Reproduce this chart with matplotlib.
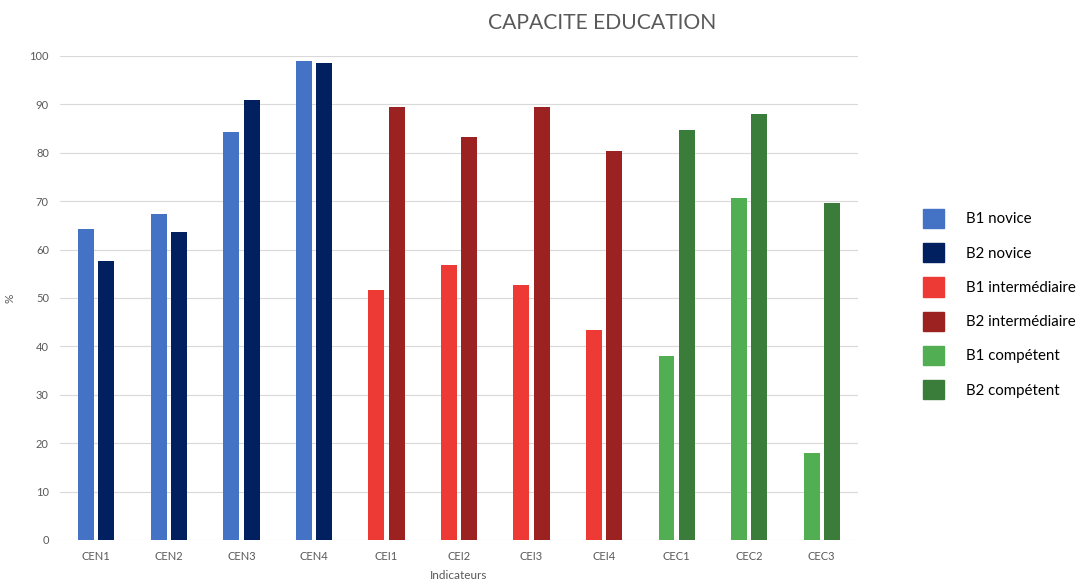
import numpy as np
import matplotlib.pyplot as plt
from matplotlib.patches import Patch

plt.rcParams['font.family'] = ['Lato', 'DejaVu Sans']

categories = ['CEN1', 'CEN2', 'CEN3', 'CEN4', 'CEI1', 'CEI2', 'CEI3', 'CEI4', 'CEC1', 'CEC2', 'CEC3']
groups = ['novice'] * 4 + ['intermédiaire'] * 4 + ['compétent'] * 3
b1_values = [64.2, 67.4, 84.2, 99.0, 51.6, 56.8, 52.7, 43.3, 38.0, 70.6, 18.0]
b2_values = [57.6, 63.6, 91.0, 98.5, 89.5, 83.3, 89.5, 80.3, 84.8, 88.0, 69.6]

colors_b1 = {'novice': '#4472C4', 'intermédiaire': '#EE3A35', 'compétent': '#52AE52'}
colors_b2 = {'novice': '#002060', 'intermédiaire': '#9C2221', 'compétent': '#3A7D3A'}

grey = '#595959'

fig = plt.figure(figsize=(10.81, 5.81), dpi=100)
ax = fig.add_axes([60 / 1081, 41 / 581, 798 / 1081, 484 / 581])

x = np.arange(len(categories))
w = 0.22
off = 0.14
ax.bar(x - off, b1_values, w, color=[colors_b1[g] for g in groups], zorder=3)
ax.bar(x + off, b2_values, w, color=[colors_b2[g] for g in groups], zorder=3)

ax.set_xlim(-0.5, len(categories) - 0.5)
ax.set_ylim(0, 100)
ax.set_yticks(range(0, 101, 10))
ax.set_xticks(x)
ax.set_xticklabels(categories)
ax.tick_params(axis='both', length=0, labelsize=8, colors=grey, pad=8)
ax.grid(axis='y', color='#D9D9D9', linewidth=0.8, zorder=0)
for s in ax.spines.values():
    s.set_visible(False)

ax.set_xlabel('Indicateurs', fontsize=8.5, color=grey, labelpad=6)
ax.set_ylabel('%', fontsize=8.5, color=grey, labelpad=10)

fig.text(602 / 1081, 1 - 23 / 581, 'CAPACITE EDUCATION', fontsize=15.2, color=grey,
         ha='center', va='center')

labels = ['B1 novice', 'B2 novice', 'B1 intermédiaire', 'B2 intermédiaire',
          'B1 compétent', 'B2 compétent']
handle_colors = [colors_b1['novice'], colors_b2['novice'],
                 colors_b1['intermédiaire'], colors_b2['intermédiaire'],
                 colors_b1['compétent'], colors_b2['compétent']]
handles = [Patch(color=c) for c in handle_colors]
fig.legend(handles, labels, loc='center left', bbox_to_anchor=(909 / 1081, 1 - 304 / 581),
           frameon=False, fontsize=10.8, handlelength=1.4, handleheight=1.6,
           labelspacing=1.0, handletextpad=1.5, labelcolor='black')

fig.savefig('out.png', dpi=100)
